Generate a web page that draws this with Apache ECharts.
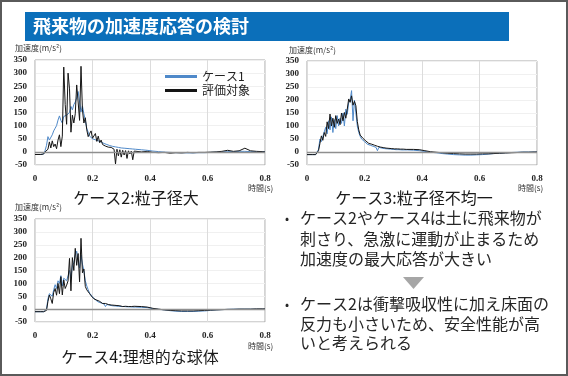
<!DOCTYPE html>
<html>
<head>
<meta charset="utf-8">
<script src="https://cdn.jsdelivr.net/npm/echarts@6/dist/echarts.min.js"></script>
<style>
  html, body { margin: 0; padding: 0; background: #fff; }
  #chart { width: 568px; height: 376px; }
</style>
</head>
<body>
<div id="chart"></div>
<script>
// time axis (s), shared by all three charts
const times = [
  0, 0.02, 0.03, 0.035, 0.04, 0.045, 0.05, 0.055, 0.06, 0.065,
  0.07, 0.075, 0.08, 0.085, 0.09, 0.095, 0.1, 0.105, 0.11, 0.115,
  0.12, 0.125, 0.13, 0.135, 0.14, 0.145, 0.15, 0.155, 0.16, 0.165,
  0.17, 0.175, 0.18, 0.185, 0.19, 0.195, 0.2, 0.205, 0.21, 0.215,
  0.22, 0.225, 0.23, 0.235, 0.24, 0.245, 0.25, 0.255, 0.26, 0.265,
  0.27, 0.275, 0.28, 0.285, 0.29, 0.295, 0.3, 0.305, 0.31, 0.315,
  0.32, 0.325, 0.33, 0.335, 0.34, 0.345, 0.35, 0.37, 0.39, 0.41,
  0.43, 0.45, 0.47, 0.49, 0.51, 0.53, 0.55, 0.57, 0.59, 0.61,
  0.63, 0.65, 0.67, 0.69, 0.71, 0.73, 0.75, 0.77, 0.79, 0.8
];

// ケース2:粒子径大
const case2Ref = [
  -10, -10, -8, 5, 25, 58, 45, 50, 65, 80,
  90, 100, 121, 137, 120, 110, 135, 130, 140, 135,
  150, 173, 160, 180, 190, 205, 230, 235, 152, 175,
  145, 120, 90, 75, 60, 55, 50, 48, 46, 44,
  42, 40, 38, 35, 32, 30, 28, 26, 24, 22,
  21, 20, 19, 18, 17, 16, 15, 14, 14, 13,
  13, 12, 12, 11, 11, 10, 10, 8, 6, 3,
  1, -1, -2, -3, -3, -4, -4, -3, -3, -2,
  -1, 0, 1, 1, 2, 2, 1, 1, 1, 1
];
const case2Eval = [
  -10, -10, -8, 0, -2, 10, 38, 15, 42, 20,
  30, 12, 45, 65, 20, 60, 323, 180, 105, 300,
  240, 75, 140, 110, 145, 255, 190, 120, 326, 160,
  110, 130, 84, 58, 70, 80, 52, 48, 70, 40,
  60, 35, 45, 28, 30, 22, 20, 18, 15, 17,
  12, 10, -46, 10, -15, 8, -20, 6, -12, 5,
  -25, 4, -8, 3, -30, 3, 2, 0, 2, -2,
  -3, -2, -5, -3, -4, -2, -3, -2, -2, -1,
  0, 2, 6, 2, 4, 14, 4, 2, 1, 0
];

// ケース3:粒子径不均一
const case3Ref = [
  -10, -10, -10, -8, 10, 50, 40, 60, 55, 95,
  70, 120, 85, 135, 75, 125, 90, 140, 100, 130,
  110, 150, 100, 165, 145, 190, 200, 236, 120, 200,
  150, 100, 75, 60, 50, 44, 40, 35, 30, 28,
  26, 24, 22, 20, 18, 5, 18, 16, 15, 14,
  13, 12, 12, 11, 11, 10, 10, 10, 9, 9,
  9, 9, 8, 8, 8, 8, 8, 7, 5, 2,
  -1, -3, -6, -8, -10, -11, -12, -12, -11, -10,
  -8, -6, -5, -3, -2, -1, 0, 0, 0, 0
];
const case3Eval = [
  -10, -10, -10, -8, 5, 33, 62, 45, 75, 60,
  116, 90, 146, 100, 130, 95, 140, 110, 127, 105,
  150, 120, 152, 130, 165, 204, 191, 216, 180, 195,
  178, 117, 85, 65, 58, 52, 46, 42, 38, 33,
  32, 30, 28, 26, 24, 22, 20, 19, 18, 17,
  16, 15, 15, 14, 14, 13, 13, 12, 12, 12,
  12, 11, 11, 11, 11, 10, 10, 10, 9, 5,
  1, -1, -3, -5, -6, -7, -8, -8, -8, -7,
  -7, -6, -5, -4, -3, -2, -1, -1, 0, 0
];

// ケース4:理想的な球体
const case4Ref = [
  -10, -10, -10, -10, 0, 40, 60, 55, 50, 75,
  95, 80, 110, 100, 130, 90, 120, 115, 110, 130,
  150, 120, 170, 180, 210, 225, 190, 160, 210, 175,
  150, 110, 90, 75, 62, 55, 48, 42, 36, 32,
  28, 26, 24, 22, 20, 10, 18, 16, 15, 14,
  13, 12, 12, 11, 11, 10, 10, 10, 10, 9,
  9, 9, 9, 8, 8, 8, 8, 7, 6, 2,
  -1, -3, -6, -8, -9, -9, -9, -8, -7, -5,
  -3, -2, -1, 0, 0, 0, 0, 0, 0, 0
];
const case4Eval = [
  -10, -10, -10, -10, -5, 30, 55, 40, 22, 65,
  80, 54, 100, 60, 126, 55, 113, 80, 93, 110,
  197, 71, 200, 150, 236, 170, 216, 106, 275, 141,
  156, 88, 75, 71, 60, 52, 48, 40, 33, 35,
  28, 30, 24, 22, 20, 22, 16, 18, 14, 16,
  13, 15, 12, 14, 11, 13, 12, 10, 13, 11,
  12, 10, 13, 10, 12, 11, 12, 10, 8, 3,
  0, -3, -5, -6, -7, -7, -7, -6, -5, -4,
  -3, -2, -1, -1, 0, 0, 0, 1, 1, 1
];

const seriesNames = ['ケース1', '評価対象'];
const caseTitles = ['ケース2:粒子径大', 'ケース3:粒子径不均一', 'ケース4:理想的な球体'];
const bullet1 = ['ケース2やケース4は土に飛来物が', '刺さり、急激に運動が止まるため', '加速度の最大応答が大きい'];
const bullet2 = ['ケース2は衝撃吸収性に加え床面の', '反力も小さいため、安全性能が高', 'いと考えられる'];

const BLUE = '#4F89C9';
const BLACK = '#151515';
const numFont = '"Liberation Serif", serif';
const jpFont = '"Noto Sans CJK JP", sans-serif';

const grids = [
  { left: 35, top: 60, width: 230, height: 105 },
  { left: 307, top: 61, width: 230, height: 104 },
  { left: 35, top: 219, width: 230, height: 103 }
];

const pairs = (vals) => vals.map((v, i) => [times[i], v]);

const xAxes = grids.map((g, i) => ({
  type: 'value', gridIndex: i, min: 0, max: 0.8, interval: 0.2,
  axisLine: { show: false }, axisTick: { show: false },
  axisLabel: { margin: 9, fontFamily: numFont, fontWeight: 'bold', fontSize: 9, color: '#222' },
  splitLine: { show: true, lineStyle: { color: '#dcdcdc', width: 1 } }
}));
const yAxes = grids.map((g, i) => ({
  type: 'value', gridIndex: i, min: -50, max: 350, interval: 50,
  axisLine: { show: false }, axisTick: { show: false },
  axisLabel: { margin: 8, fontFamily: numFont, fontWeight: 'bold', fontSize: 9, color: '#222' },
  splitLine: { show: true, lineStyle: { color: '#f0f0f0', width: 1 } }
}));

const zeroLine = {
  silent: true, symbol: ['none', 'none'], label: { show: false },
  lineStyle: { color: '#8f8f8f', width: 1.3, type: 'solid' },
  data: [{ yAxis: 0 }]
};

const chartData = [[case2Ref, case2Eval], [case3Ref, case3Eval], [case4Ref, case4Eval]];
const series = [];
chartData.forEach((pair, i) => {
  series.push({
    name: seriesNames[0], type: 'line', xAxisIndex: i, yAxisIndex: i,
    data: pairs(pair[0]), showSymbol: false, color: BLUE,
    lineStyle: { width: 1, color: BLUE }
  });
  series.push({
    name: seriesNames[1], type: 'line', xAxisIndex: i, yAxisIndex: i,
    data: pairs(pair[1]), showSymbol: false, color: BLACK,
    lineStyle: { width: 1, color: BLACK }, markLine: zeroLine
  });
});

const txt = (text, x, y, font, fill, align) => ({
  type: 'text', x: x, y: y, silent: true,
  style: { text: text, font: font, fill: fill || '#222', textAlign: align || 'left', textVerticalAlign: 'middle' }
});

const graphics = [
  { type: 'rect', shape: { x: 1, y: 1, width: 566, height: 374 }, style: { fill: 'none', stroke: '#5a5a5a', lineWidth: 2 }, silent: true },
  { type: 'rect', shape: { x: 25, y: 12, width: 484, height: 29 }, style: { fill: '#0B6FBA' }, silent: true },
  txt('飛来物の加速度応答の検討', 33, 26.5, 'bold 18px ' + jpFont, '#ffffff'),
  txt('加速度(m/s²)', 15, 48, '8px ' + jpFont, '#333'),
  txt('加速度(m/s²)', 289, 50, '8px ' + jpFont, '#333'),
  txt('加速度(m/s²)', 15, 207, '8px ' + jpFont, '#333'),
  txt('時間(s)', 248, 188, '8px ' + jpFont, '#333'),
  txt('時間(s)', 518, 188, '8px ' + jpFont, '#333'),
  txt('時間(s)', 248, 346, '8px ' + jpFont, '#333'),
  txt(caseTitles[0], 136, 198, '16px ' + jpFont, '#1a1a1a', 'center'),
  txt(caseTitles[1], 414, 198, '16px ' + jpFont, '#1a1a1a', 'center'),
  txt(caseTitles[2], 140, 357, '16px ' + jpFont, '#1a1a1a', 'center'),
  txt('•', 285, 218, '12px ' + jpFont, '#262626'),
  txt('•', 285, 304, '12px ' + jpFont, '#262626'),
  { type: 'polygon', shape: { points: [[403, 277], [424, 277], [413.5, 289]] }, style: { fill: '#A6A6A6' }, silent: true }
];
[218, 239, 259].forEach((y, k) => graphics.push(txt(bullet1[k], 300, y, '16px ' + jpFont, '#262626')));
[304, 323.5, 343].forEach((y, k) => graphics.push(txt(bullet2[k], 300, y, '16px ' + jpFont, '#262626')));

const chart = echarts.init(document.getElementById('chart'));
chart.setOption({
  animation: false,
  backgroundColor: '#ffffff',
  grid: grids.map(g => Object.assign({ show: true, borderColor: '#a8a8a8', borderWidth: 1, backgroundColor: 'transparent' }, g)),
  xAxis: xAxes,
  yAxis: yAxes,
  legend: {
    data: seriesNames, orient: 'vertical', left: 160, top: 65,
    icon: 'rect', itemWidth: 32, itemHeight: 3, itemGap: 1,
    textStyle: { fontFamily: jpFont, fontSize: 12, color: '#222', lineHeight: 13 }
  },
  series: series,
  graphic: graphics
});
</script>
</body>
</html>
